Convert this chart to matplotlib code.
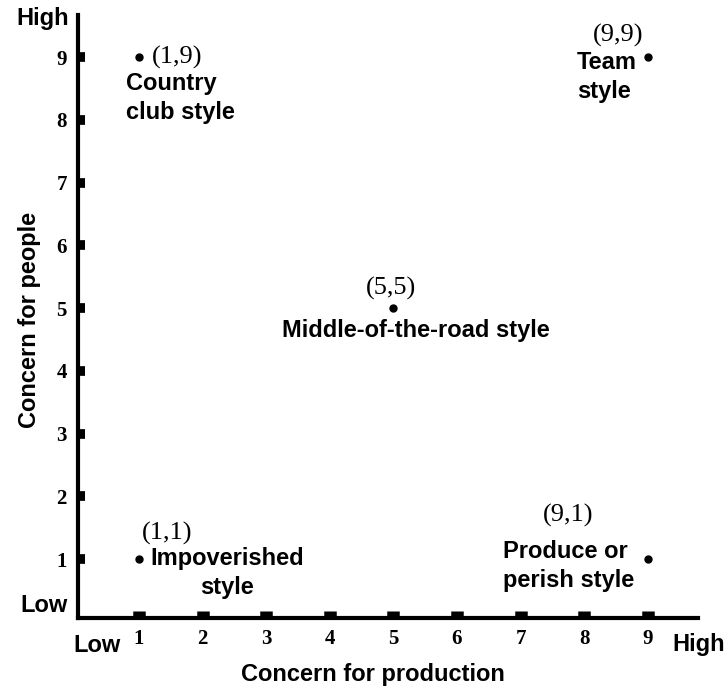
import matplotlib
matplotlib.use('Agg')
import matplotlib.pyplot as plt

# Managerial grid styles
estilos = ['Country\nclub style', 'Team\nstyle', 'Middle-of-the-road style',
           'Impoverished\nstyle', 'Produce or\nperish style']
produccion = [1, 9, 5, 1, 9]
personas = [9, 9, 5, 1, 1]
etiquetas = ['(1,9)', '(9,9)', '(5,5)', '(1,1)', '(9,1)']
ticks = [1, 2, 3, 4, 5, 6, 7, 8, 9]

sans = 'Liberation Sans'
serif = 'Liberation Serif'

fig = plt.figure(figsize=(7.27, 6.86), dpi=100)
ax = fig.add_axes([78 / 727, 68 / 686, 620 / 727, 603 / 686])
ax.set_xlim(0.04, 9.79)
ax.set_ylim(0.06, 9.67)

for s in ['top', 'right']:
    ax.spines[s].set_visible(False)
for s in ['left', 'bottom']:
    ax.spines[s].set_linewidth(3)

ax.set_xticks(ticks)
ax.set_yticks(ticks)
ax.tick_params(axis='x', direction='in', length=5, width=9, pad=8)
ax.tick_params(axis='y', direction='in', length=5, width=7, pad=8)
for lab in ax.get_xticklabels() + ax.get_yticklabels():
    lab.set_fontfamily(serif)
    lab.set_fontweight('bold')
    lab.set_fontsize(15)

ax.plot(produccion, personas, 'o', color='black', markersize=5, linestyle='none')

# offsets (pixels) for coordinate labels and style names
off_coord = [(13, 0, 'left'), (-30, 22, 'center'), (-2, 20, 'center'),
             (28, 26, 'center'), (-80, 44, 'center')]
off_name = [(-13, -41, 'left', 'left'), (-71, -20, 'left', 'left'),
            (22, -22, 'center', 'center'), (88, -14, 'center', 'center'),
            (-145, -7, 'left', 'left')]

for i in range(len(estilos)):
    dx, dy, ha = off_coord[i]
    ax.annotate(etiquetas[i], (produccion[i], personas[i]), xytext=(dx, dy),
                textcoords='offset pixels', ha=ha, va='center',
                fontfamily=serif, fontsize=19)
    dx, dy, ha, ma = off_name[i]
    ax.annotate(estilos[i], (produccion[i], personas[i]), xytext=(dx, dy),
                textcoords='offset pixels', ha=ha, va='center', multialignment=ma,
                fontfamily=sans, fontweight='bold', fontsize=17, linespacing=1.35)

kw = dict(fontfamily=sans, fontweight='bold', fontsize=17)
fig.text(43 / 727, 1 - 18 / 686, 'High', ha='center', va='center', **kw)
fig.text(44 / 727, 1 - 606 / 686, 'Low', ha='center', va='center', **kw)
fig.text(97 / 727, 1 - 645 / 686, 'Low', ha='center', va='center', **kw)
fig.text(699 / 727, 1 - 645 / 686, 'High', ha='center', va='center', **kw)
fig.text(373 / 727, 1 - 674 / 686, 'Concern for production', ha='center', va='center', **kw)
fig.text(30 / 727, 1 - 320 / 686, 'Concern for people', ha='center', va='center',
         rotation=90, **kw)

fig.savefig('out.png', dpi=100)
